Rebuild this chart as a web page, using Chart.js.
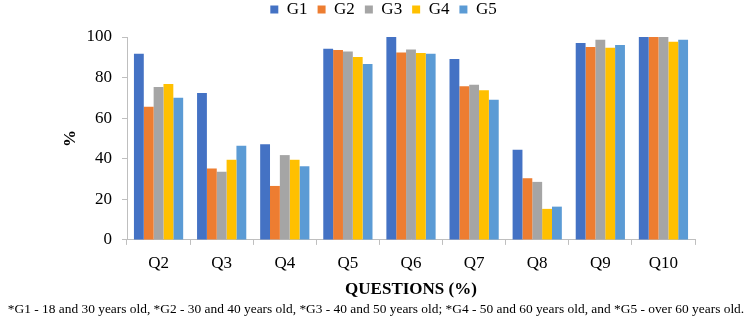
<!DOCTYPE html>
<html>
<head>
<meta charset="utf-8">
<script src="https://cdn.jsdelivr.net/npm/chart.js@4"></script>
<style>
  html, body { margin: 0; padding: 0; background: #fff; }
  #wrap { width: 750px; height: 320px; position: relative; }
</style>
</head>
<body>
<div id="wrap"><canvas id="chart"></canvas></div>
<script>
  // Question categories on the x axis.
  const QUESTIONS = ["Q2", "Q3", "Q4", "Q5", "Q6", "Q7", "Q8", "Q9", "Q10"];

  // Percent per age group.
  const G1 = [91.8, 72.4, 47.2, 94.2, 100, 89.1, 44.4, 97.0, 100];
  const G2 = [65.6, 35.2, 26.6, 93.6, 92.4, 75.7, 30.4, 95.1, 100];
  const G3 = [75.3, 33.6, 41.8, 92.8, 93.9, 76.5, 28.6, 98.7, 100];
  const G4 = [76.8, 39.5, 39.5, 90.1, 92.1, 73.7, 15.3, 94.7, 97.7];
  const G5 = [70.1, 46.4, 36.3, 86.7, 91.8, 69.1, 16.4, 96.0, 98.7];

  const GROUP_LABELS = ["G1", "G2", "G3", "G4", "G5"];
  const Y_TICKS = [0, 20, 40, 60, 80, 100];

  const FOOTNOTE = "*G1 - 18 and 30 years old, *G2 - 30 and 40 years old, *G3 - 40 and 50 years old; " +
    "*G4 - 50 and 60 years old, and *G5 - over 60 years old.";

  // Office palette.
  const COLORS = ["#4472C4", "#ED7D31", "#A5A5A5", "#FFC000", "#5B9BD5"];
  const AXIS = "#bfbfbf";
  const SERIF = "'Liberation Serif', 'Times New Roman', serif";

  const series = [G1, G2, G3, G4, G5];

  // Legend and footnote sit centred on the page, not on the plot box,
  // so nudge their boxes after layout (before the legend builds hitboxes).
  const nudgeBoxes = {
    id: "nudgeBoxes",
    afterLayout: function (chart) {
      const lg = chart.legend;
      if (lg) {
        lg.left += 6; lg.right += 6;
        lg.top -= 9; lg.bottom -= 9;
      }
      chart.boxes.forEach(function (b) {
        if (b.options && b.options.text === FOOTNOTE) {
          b.left = 2;
          b.right = chart.width;
          b.width = b.right - b.left;
        }
      });
    },
  };

  new Chart(document.getElementById("chart"), {
    type: "bar",
    data: {
      labels: QUESTIONS,
      datasets: series.map(function (vals, i) {
        return {
          label: GROUP_LABELS[i],
          data: vals,
          backgroundColor: COLORS[i],
          borderWidth: 0,
          categoryPercentage: 0.78,
          barPercentage: 1.0,
        };
      }),
    },
    plugins: [nudgeBoxes],
    options: {
      responsive: true,
      maintainAspectRatio: false,
      animation: false,
      devicePixelRatio: 1,
      layout: { padding: { left: 60, right: 55, top: 0, bottom: 2 } },
      scales: {
        x: {
          offset: true,
          afterFit: function (scale) { scale.height = 60; },
          border: { color: AXIS, width: 1 },
          grid: { offset: true, drawOnChartArea: false, drawTicks: true, tickLength: 5, color: AXIS },
          ticks: { color: "#000", font: { family: SERIF, size: 17 }, padding: 8 },
          title: {
            display: true,
            text: "QUESTIONS (%)",
            color: "#000",
            font: { family: SERIF, size: 17, weight: "bold" },
            padding: { top: 0, bottom: 0 },
          },
        },
        y: {
          min: 0,
          max: 100,
          afterBuildTicks: function (scale) {
            scale.ticks = Y_TICKS.map(function (v) { return { value: v }; });
          },
          afterFit: function (scale) { scale.width = 67; },
          border: { color: AXIS, width: 1 },
          grid: { drawOnChartArea: false, drawTicks: true, tickLength: 5, color: AXIS },
          ticks: { color: "#000", font: { family: SERIF, size: 17 }, padding: 10 },
          title: {
            display: true,
            text: "%",
            color: "#000",
            font: { family: SERIF, size: 17, weight: "bold" },
            padding: { top: 0, bottom: 0 },
          },
        },
      },
      plugins: {
        legend: {
          position: "top",
          labels: {
            color: "#000",
            font: { family: SERIF, size: 17 },
            boxWidth: 8,
            boxHeight: 8,
            padding: 10,
          },
        },
        subtitle: {
          display: true,
          position: "bottom",
          text: FOOTNOTE,
          color: "#000",
          font: { family: SERIF, size: 13.4 },
          padding: { top: 2, bottom: 0 },
        },
        tooltip: { enabled: false },
      },
    },
  });
</script>
</body>
</html>
